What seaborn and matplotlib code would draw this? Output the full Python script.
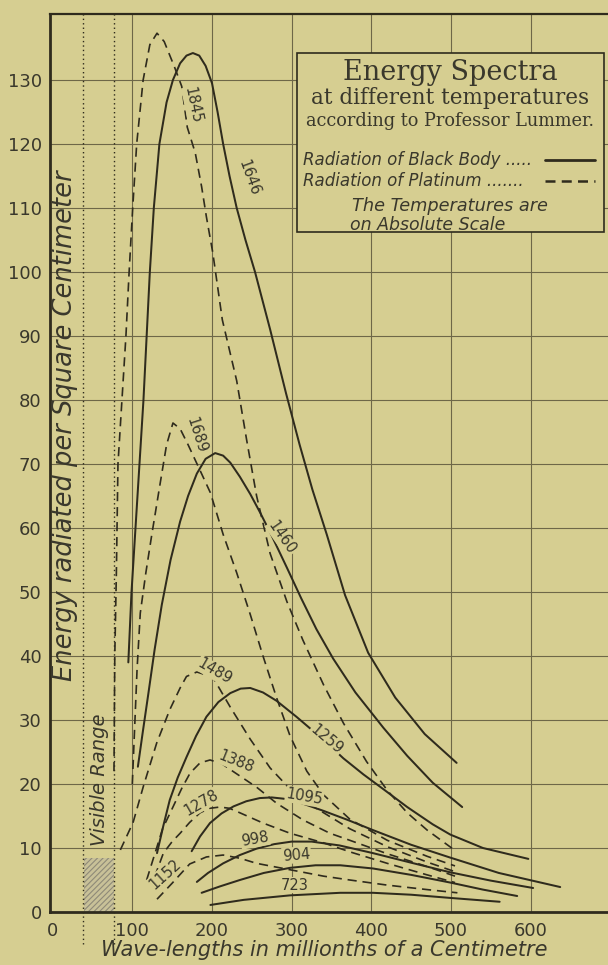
import numpy as np
import pandas as pd
import matplotlib
matplotlib.use("Agg")
import matplotlib.pyplot as plt
import seaborn as sns
from matplotlib.patches import Rectangle

# ---------------- data ----------------
# Black body curves (solid)
bb_1646_x = [95, 99, 104, 109, 114, 118, 122, 127, 134, 143, 151, 160, 168, 176, 184, 192, 200, 207, 214, 222, 231, 242, 254, 273, 293, 310, 326, 344, 367, 396, 430, 467, 507]
bb_1646_y = [39, 50, 60, 70, 80, 90, 100, 110, 120, 126.5, 130, 132.6, 133.8, 134.2, 133.8, 132.2, 129.5, 125, 120, 115, 110, 105, 100, 91, 81, 73, 66, 59, 49.5, 40.5, 33.5, 27.8, 23.3]
bb_1460_x = [107, 113, 120, 128, 137, 148, 160, 170, 181, 192, 204, 214, 223, 235, 248, 260, 273, 294, 312, 331, 352, 380, 415, 445, 477, 514]
bb_1460_y = [22.7, 28, 34, 41, 48, 55, 61, 65, 68.5, 70.8, 71.7, 71.3, 70.2, 68, 65.3, 62.5, 59.3, 53.8, 49, 44.2, 39.6, 34.3, 28.8, 24.4, 20.2, 16.4]
bb_1259_x = [131, 139, 147, 157, 168, 180, 193, 208, 223, 236, 248, 264, 281, 306, 339, 365, 390, 415, 445, 477, 499, 540, 597]
bb_1259_y = [9.2, 13.5, 17.5, 21, 24.2, 27.5, 30.5, 32.8, 34.2, 34.9, 35, 34.3, 33, 30.5, 27, 24, 21.5, 19.2, 16.4, 13.7, 12.1, 10.0, 8.3]
bb_1095_x = [174.5, 185, 197.5, 212, 227, 243, 260, 275, 290, 310, 340, 370, 402, 450, 499, 560, 637]
bb_1095_y = [9.5, 11.8, 13.9, 15.4, 16.5, 17.3, 17.8, 17.9, 17.7, 17.1, 15.8, 14.4, 12.8, 10.5, 8.5, 6.1, 3.9]
bb_998_x = [181, 195, 214, 235, 256, 278, 300, 325, 360, 402, 450, 499, 550, 603]
bb_998_y = [4.7, 6.1, 7.6, 8.9, 9.9, 10.6, 11.0, 11.0, 10.4, 9.2, 7.7, 6.2, 4.9, 3.75]
bb_904_x = [187, 210, 235, 265, 298, 330, 361, 402, 450, 499, 540, 583]
bb_904_y = [3.0, 4.0, 5.0, 6.1, 6.9, 7.3, 7.3, 6.8, 5.8, 4.6, 3.5, 2.5]
bb_723_x = [198, 240, 298, 361, 402, 450, 499, 561]
bb_723_y = [1.1, 1.9, 2.6, 3.0, 3.0, 2.7, 2.2, 1.6]

# Platinum curves (dashed)
pt_1845_x = [77, 78, 80, 82, 87, 92, 96, 100.5, 105.5, 113.6, 122, 131, 140, 153, 162, 169, 179, 187, 193, 201, 213, 231, 243.5, 256, 273, 294, 314, 340, 365, 394, 420, 445, 470, 503]
pt_1845_y = [22, 40, 53, 70, 80, 90, 100, 110, 120, 130, 135.5, 137.3, 136, 132, 129, 122.6, 118.6, 113.3, 108.6, 103, 92.5, 83, 73.75, 65, 56, 48.5, 42.5, 35.5, 29.5, 23.5, 19, 15.5, 12.8, 9.8]
pt_1689_x = [100, 103, 106, 110, 117, 124.5, 135, 143, 151, 160, 170, 185, 198, 214, 231, 248, 264, 281, 298, 319, 340, 373, 420, 470, 505]
pt_1689_y = [20, 29, 38, 46.7, 53, 59, 67, 73, 76.4, 75.5, 73, 69, 65.5, 59, 53, 46.5, 40, 33.5, 27.5, 22, 18.3, 14.5, 11.2, 8.7, 7.2]
pt_1489_x = [85, 101, 113.8, 130.6, 147, 160, 168, 181, 201, 223, 248, 273, 298, 331, 373, 420, 470, 505]
pt_1489_y = [9.7, 14, 19.6, 26.4, 31.6, 35, 36.8, 37.5, 36.7, 32, 27, 22.5, 19.2, 16.2, 13, 10.2, 7.8, 6.3]
pt_1388_x = [118, 128, 138, 151, 162, 172.5, 185, 197.5, 212, 226, 256, 281, 314, 348, 373, 420, 470, 505]
pt_1388_y = [5, 9, 13, 16.4, 19.3, 21.7, 23.3, 23.75, 23.2, 22, 19.5, 17, 14.4, 12.3, 11.2, 9.1, 7.1, 5.6]
pt_1278_x = [128, 139, 150, 160, 172, 185, 197, 210, 222, 235, 264, 298, 340, 373, 420, 470, 505]
pt_1278_y = [5.5, 9.2, 11, 12.3, 14, 15.5, 16.2, 16.4, 16.2, 15.5, 13.9, 12.3, 10.8, 9.4, 7.6, 5.8, 4.6]
pt_1152_x = [131, 150, 172, 193, 214, 235, 256, 298, 340, 373, 420, 470, 508]
pt_1152_y = [2.0, 4.5, 7.5, 8.6, 8.9, 8.4, 7.6, 6.6, 5.6, 5.0, 4.2, 3.5, 3.0]

x_ticks = [0, 100, 200, 300, 400, 500, 600]
y_ticks = list(range(0, 140, 10))

# temperature labels: text, x, y (data coords), rotation
labels = [
    ("1845", 176, 126, -78), ("1646", 247, 114.7, -70), ("1689", 181, 74.5, -72),
    ("1460", 288, 58.5, -55), ("1489", 203, 37.6, -30), ("1259", 344, 27, -40),
    ("1388", 231, 23.4, -22), ("1095", 316, 18, -10), ("1278", 186, 17, 30),
    ("998", 254, 11.4, 10), ("904", 306, 8.9, 5), ("1152", 141, 5.9, 42),
    ("723", 304, 4.2, 0),
]

curves = {
    ("Black Body", 1646): (bb_1646_x, bb_1646_y),
    ("Black Body", 1460): (bb_1460_x, bb_1460_y),
    ("Black Body", 1259): (bb_1259_x, bb_1259_y),
    ("Black Body", 1095): (bb_1095_x, bb_1095_y),
    ("Black Body", 998): (bb_998_x, bb_998_y),
    ("Black Body", 904): (bb_904_x, bb_904_y),
    ("Black Body", 723): (bb_723_x, bb_723_y),
    ("Platinum", 1845): (pt_1845_x, pt_1845_y),
    ("Platinum", 1689): (pt_1689_x, pt_1689_y),
    ("Platinum", 1489): (pt_1489_x, pt_1489_y),
    ("Platinum", 1388): (pt_1388_x, pt_1388_y),
    ("Platinum", 1278): (pt_1278_x, pt_1278_y),
    ("Platinum", 1152): (pt_1152_x, pt_1152_y),
}
rows = []
for (kind, T), (xs, ys) in curves.items():
    for i, (xv, yv) in enumerate(zip(xs, ys)):
        rows.append({"kind": kind, "T": T, "order": i, "x": xv, "y": yv})
df = pd.DataFrame(rows)

# ---------------- style ----------------
BG = "#d6ce91"
INK = "#2f2b1d"
GRID = "#6e6748"
TXT = "#3a382c"

sns.set_theme(style="white")
plt.rcParams["font.family"] = ["DejaVu Sans"]
plt.rcParams["hatch.color"] = "#8e8a78"
plt.rcParams["hatch.linewidth"] = 0.8

fig = plt.figure(figsize=(6.08, 9.65), dpi=100)
fig.patch.set_facecolor(BG)
ax = fig.add_axes([50 / 608, 53 / 965, 558 / 608, 898 / 965])
ax.set_facecolor(BG)

ax.set_xlim(-3.3, 697)
ax.set_ylim(0, 140.3)

# grid
for xv in x_ticks[1:]:
    ax.axvline(xv, color=GRID, lw=0.8, zorder=1)
for yv in y_ticks[1:]:
    ax.axhline(yv, color=GRID, lw=0.8, zorder=1)

# visible range
for xv in (38, 77):
    ax.plot([xv, xv], [-5, 140.3], ls=(0, (1, 2.2)), color=INK, lw=1.0,
            clip_on=False, zorder=2)
ax.add_patch(Rectangle((39, 0), 38, 8.4, facecolor="#c8c198", edgecolor="#8e8a78",
                       hatch="//////", lw=0, zorder=1.5))

sns.lineplot(data=df, x="x", y="y", units="T", estimator=None, style="kind",
             dashes={"Black Body": "", "Platinum": (5.5, 3.5)}, color=INK,
             sort=False, legend=False, ax=ax, zorder=3)
for line in ax.lines[-len(curves):]:
    if line.get_linestyle() == "-":
        line.set_linewidth(1.45)
    else:
        line.set_linewidth(1.2)

for txt, xv, yv, rot in labels:
    ax.text(xv, yv, txt, rotation=rot, ha="center", va="center", fontsize=10.5,
            color=TXT, zorder=5, rotation_mode="anchor",
            bbox=dict(boxstyle="square,pad=0.05", fc=BG, ec="none"))

# spines & ticks
for s in ["left", "bottom"]:
    ax.spines[s].set_color(INK)
    ax.spines[s].set_linewidth(2.0)
ax.spines["top"].set_color(INK)
ax.spines["top"].set_linewidth(1.6)
ax.spines["right"].set_visible(False)
ax.set_xticks(x_ticks)
ax.set_yticks(y_ticks)
ax.tick_params(axis="both", length=0, labelsize=13, labelcolor=TXT)
ax.tick_params(axis="y", pad=6)
ax.tick_params(axis="x", pad=7)
ax.set_xlabel("")
ax.set_ylabel("")

fig.text(324 / 608, 1 - 950 / 965, "Wave-lengths in millionths of a Centimetre",
         ha="center", va="center", fontsize=15, style="italic", color=TXT)
ax.text(0.027, 0.542, "Energy radiated per Square Centimeter", transform=ax.transAxes,
        rotation=90, ha="center", va="center", fontsize=18.5, style="italic", color=TXT,
        zorder=6)
ax.text(0.0896, 0.147, "Visible Range", transform=ax.transAxes, rotation=90,
        ha="center", va="center", fontsize=14, style="italic", color=TXT, zorder=6)

# title box
ax.add_patch(Rectangle((0.4427, 0.7572), 0.5501, 0.1994, transform=ax.transAxes,
                       facecolor=BG, edgecolor=INK, lw=1.2, zorder=6))
cx = (450 - 50) / 558
ax.text(cx, 0.9354, "Energy Spectra", transform=ax.transAxes, ha="center", va="center",
        fontsize=19.5, family="DejaVu Serif", color=TXT, zorder=7)
ax.text(cx, 0.9065, "at different temperatures", transform=ax.transAxes, ha="center",
        va="center", fontsize=15.5, family="DejaVu Serif", color=TXT, zorder=7)
ax.text(cx, 0.8808, "according to Professor Lummer.", transform=ax.transAxes, ha="center",
        va="center", fontsize=12.8, family="DejaVu Serif", color=TXT, zorder=7)
ax.text(0.4534, 0.8374, "Radiation of Black Body .....", transform=ax.transAxes, ha="left",
        va="center", fontsize=12, style="italic", color=TXT, zorder=7)
ax.text(0.4534, 0.814, "Radiation of Platinum .......", transform=ax.transAxes, ha="left",
        va="center", fontsize=12, style="italic", color=TXT, zorder=7)
ax.plot([0.887, 0.977], [0.8374, 0.8374], transform=ax.transAxes, color=INK, lw=2.0, zorder=7)
ax.plot([0.887, 0.977], [0.814, 0.814], transform=ax.transAxes, color=INK, lw=1.8,
        ls=(0, (4, 2.5)), zorder=7)
ax.text(cx, 0.7862, "The Temperatures are", transform=ax.transAxes, ha="center",
        va="center", fontsize=12.8, style="italic", color=TXT, zorder=7)
ax.text((428 - 50) / 558, 0.765, "on Absolute Scale", transform=ax.transAxes, ha="center",
        va="center", fontsize=12.5, style="italic", color=TXT, zorder=7)

fig.savefig("out.png", dpi=100, facecolor=BG)
